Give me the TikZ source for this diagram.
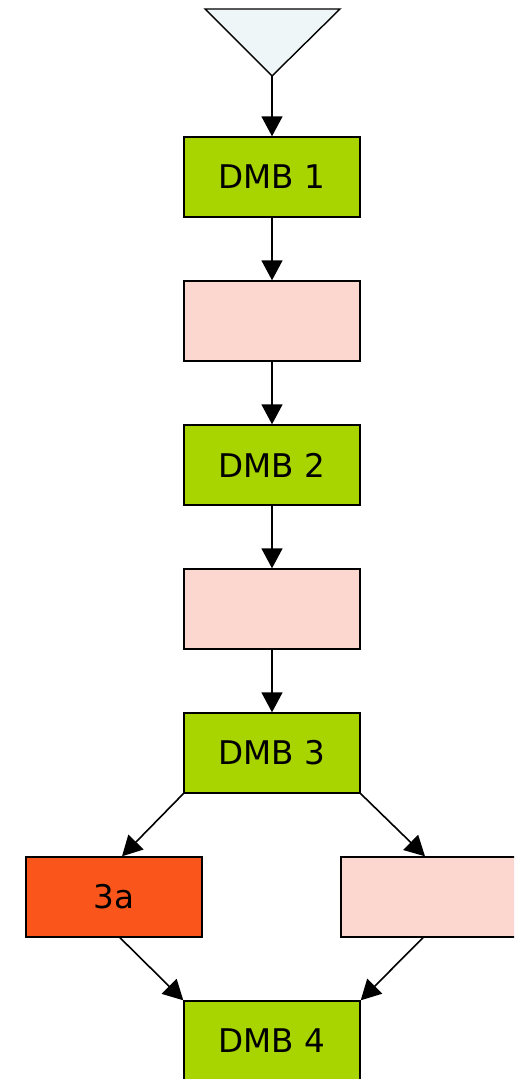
\documentclass[tikz,border=0pt]{standalone}
\usepackage{fontspec}
\setmainfont{DejaVu Sans}
\usepackage{xcolor}
\usepackage{tikz}
\usetikzlibrary{shapes.geometric, arrows.meta}
\definecolor{dmbgreen}{RGB}{168,212,0}
\definecolor{stagepink}{RGB}{252,215,207}
\definecolor{stagered}{RGB}{250,86,28}
\definecolor{startblue}{RGB}{239,246,248}
\tikzstyle{dmb} = [rectangle, draw=black, line width=0.7pt, fill=dmbgreen, minimum width=88pt, minimum height=40pt, font=\fontsize{16.3}{19}\selectfont]
\tikzstyle{stage} = [dmb, fill=stagepink]
\tikzstyle{arrow} = [line width=0.8pt,-{Triangle[length=10pt,width=10.5pt]}]

\begin{document}
\begin{tikzpicture}[x=0.5pt,y=-0.5pt]
	\clip (0,0) rectangle (514,1079);
	
	% Start:
	% The triangle is drawn as a path, its tip is a coordinate
	\draw [fill=startblue, line width=0.7pt] (205,9) -- (340,9) -- (272,76) -- cycle;
	\coordinate (start) at (272,76);
	
	% Boxes:
	\node (dmb1) [dmb] at (272,177) {DMB 1};
	\node (p1) [stage] at (272,321) {};
	\node (dmb2) [dmb] at (272,465) {DMB 2};
	\node (p2) [stage] at (272,609) {};
	\node (dmb3) [dmb] at (272,753) {DMB 3};
	\node (a3) [stage, fill=stagered] at (114,897) {3a};
	\node (b3) [stage] at (429,897) {};
	\node (dmb4) [dmb] at (272,1041) {DMB 4};
	
	% Arrows:
	\draw [arrow] (start) -- (dmb1);
	\draw [arrow] (dmb1) -- (p1);
	\draw [arrow] (p1) -- (dmb2);
	\draw [arrow] (dmb2) -- (p2);
	\draw [arrow] (p2) -- (dmb3);
	\draw [arrow] (dmb3.south west) -- ([xshift=4pt]a3.north);
	\draw [arrow] (dmb3.south east) -- ([xshift=-2pt]b3.north);
	\draw [arrow] ([xshift=3pt]a3.south) -- (dmb4.north west);
	\draw [arrow] ([xshift=-3pt]b3.south) -- (dmb4.north east);
	
\end{tikzpicture}
\end{document}
